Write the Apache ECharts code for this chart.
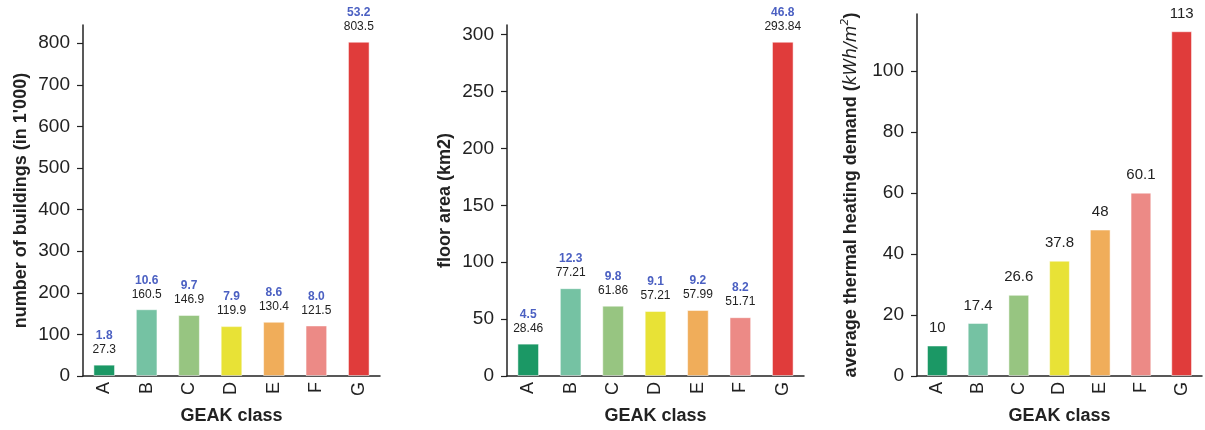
<!DOCTYPE html>
<html>
<head>
<meta charset="utf-8">
<script src="https://cdn.jsdelivr.net/npm/echarts@6/dist/echarts.min.js"></script>
<style>
html,body{margin:0;padding:0;background:#fff;}
#c{width:1205px;height:430px;}
</style>
</head>
<body>
<div id="c"></div>
<script>
const categories = ['A', 'B', 'C', 'D', 'E', 'F', 'G'];
const buildings = [27.3, 160.5, 146.9, 119.9, 130.4, 121.5, 803.5];
const buildingsShare = [1.8, 10.6, 9.7, 7.9, 8.6, 8.0, 53.2];
const floorArea = [28.46, 77.21, 61.86, 57.21, 57.99, 51.71, 293.84];
const floorAreaShare = [4.5, 12.3, 9.8, 9.1, 9.2, 8.2, 46.8];
const heatDemand = [10, 17.4, 26.6, 37.8, 48, 60.1, 113];
const ticks1 = [0, 100, 200, 300, 400, 500, 600, 700, 800];
const ticks2 = [0, 50, 100, 150, 200, 250, 300];
const ticks3 = [0, 20, 40, 60, 80, 100];
const barColors = ['#1b9865', '#75c2a3', '#97c581', '#e8e236', '#f0ad5a', '#ec8a86', '#e03c3b'];

const FONT = 'Liberation Sans';
const AX = '#222';

function colored(vals) {
  return vals.map((v, i) => ({ value: v, itemStyle: { color: barColors[i], borderColor: 'rgba(255,255,255,0.5)', borderWidth: 1 } }));
}

function xAxis(gi) {
  return {
    type: 'category', gridIndex: gi, data: categories, boundaryGap: true,
    axisLine: { lineStyle: { color: AX, width: 1.5 } },
    axisTick: { alignWithLabel: true, length: 6, lineStyle: { color: AX, width: 1.2 } },
    axisLabel: { rotate: 90, fontFamily: FONT, fontSize: 18, color: AX, margin: 6 },
    name: 'GEAK class', nameLocation: 'middle', nameGap: 31,
    nameTextStyle: { fontFamily: FONT, fontSize: 18, fontWeight: 'bold', color: AX }
  };
}

function yAxis(gi, max, ticks, name, gap, nameStyle) {
  return {
    type: 'value', gridIndex: gi, min: 0, max: max,
    splitLine: { show: false },
    axisLine: { show: true, lineStyle: { color: AX, width: 1.5 } },
    axisTick: { show: true, length: 6, customValues: ticks, lineStyle: { color: AX, width: 1.2 } },
    axisLabel: { customValues: ticks, fontFamily: FONT, fontSize: 19, color: AX, margin: 13 },
    name: name, nameLocation: 'middle', nameGap: gap,
    nameTextStyle: nameStyle || { fontFamily: FONT, fontSize: 18, fontWeight: 'bold', color: AX }
  };
}

function twoLineLabel(shares, vals) {
  return {
    show: true, position: 'top', distance: 8,
    formatter: p => '{p|' + shares[p.dataIndex].toFixed(1) + '}\n{v|' + vals[p.dataIndex] + '}',
    rich: {
      p: { fontFamily: FONT, fontSize: 12, color: '#4b60c2', lineHeight: 14, fontWeight: 'bold' },
      v: { fontFamily: FONT, fontSize: 12, color: '#222', lineHeight: 14 }
    }
  };
}

const option = {
  backgroundColor: '#fff',
  animation: false,
  grid: [
    { left: 83, top: 25, width: 297, height: 352 },
    { left: 507, top: 25, width: 297, height: 352 },
    { left: 917, top: 14, width: 285, height: 363 }
  ],
  xAxis: [xAxis(0), xAxis(1), xAxis(2)],
  yAxis: [
    yAxis(0, Math.max(...buildings) * 1.05, ticks1, "number of buildings (in 1'000)", 53),
    yAxis(1, Math.max(...floorArea) * 1.05, ticks2, 'floor area (km2)', 53),
    yAxis(2, Math.max(...heatDemand) * 1.05, ticks3,
      '{b|average thermal heating demand (}{i|kWh/m}{s|2}{b|)}', 57,
      {
        rich: {
          b: { fontFamily: FONT, fontSize: 18, fontWeight: 'bold', color: AX, lineHeight: 24, verticalAlign: 'bottom' },
          i: { fontFamily: 'DejaVu Sans', fontSize: 17, fontStyle: 'italic', color: AX, lineHeight: 24, verticalAlign: 'bottom' },
          s: { fontFamily: 'DejaVu Sans', fontSize: 11, fontStyle: 'italic', color: AX, lineHeight: 24, verticalAlign: 'top', padding: [4, 0, 0, 0] }
        }
      })
  ],
  series: [
    { type: 'bar', xAxisIndex: 0, yAxisIndex: 0, barWidth: '51%', data: colored(buildings), label: twoLineLabel(buildingsShare, buildings) },
    { type: 'bar', xAxisIndex: 1, yAxisIndex: 1, barWidth: '51%', data: colored(floorArea), label: twoLineLabel(floorAreaShare, floorArea) },
    { type: 'bar', xAxisIndex: 2, yAxisIndex: 2, barWidth: '51%', data: colored(heatDemand),
      label: { show: true, position: 'top', distance: 10, fontFamily: FONT, fontSize: 15, color: '#222' } }
  ]
};

const chart = echarts.init(document.getElementById('c'), null, { renderer: 'canvas' });
chart.setOption(option);
</script>
</body>
</html>
